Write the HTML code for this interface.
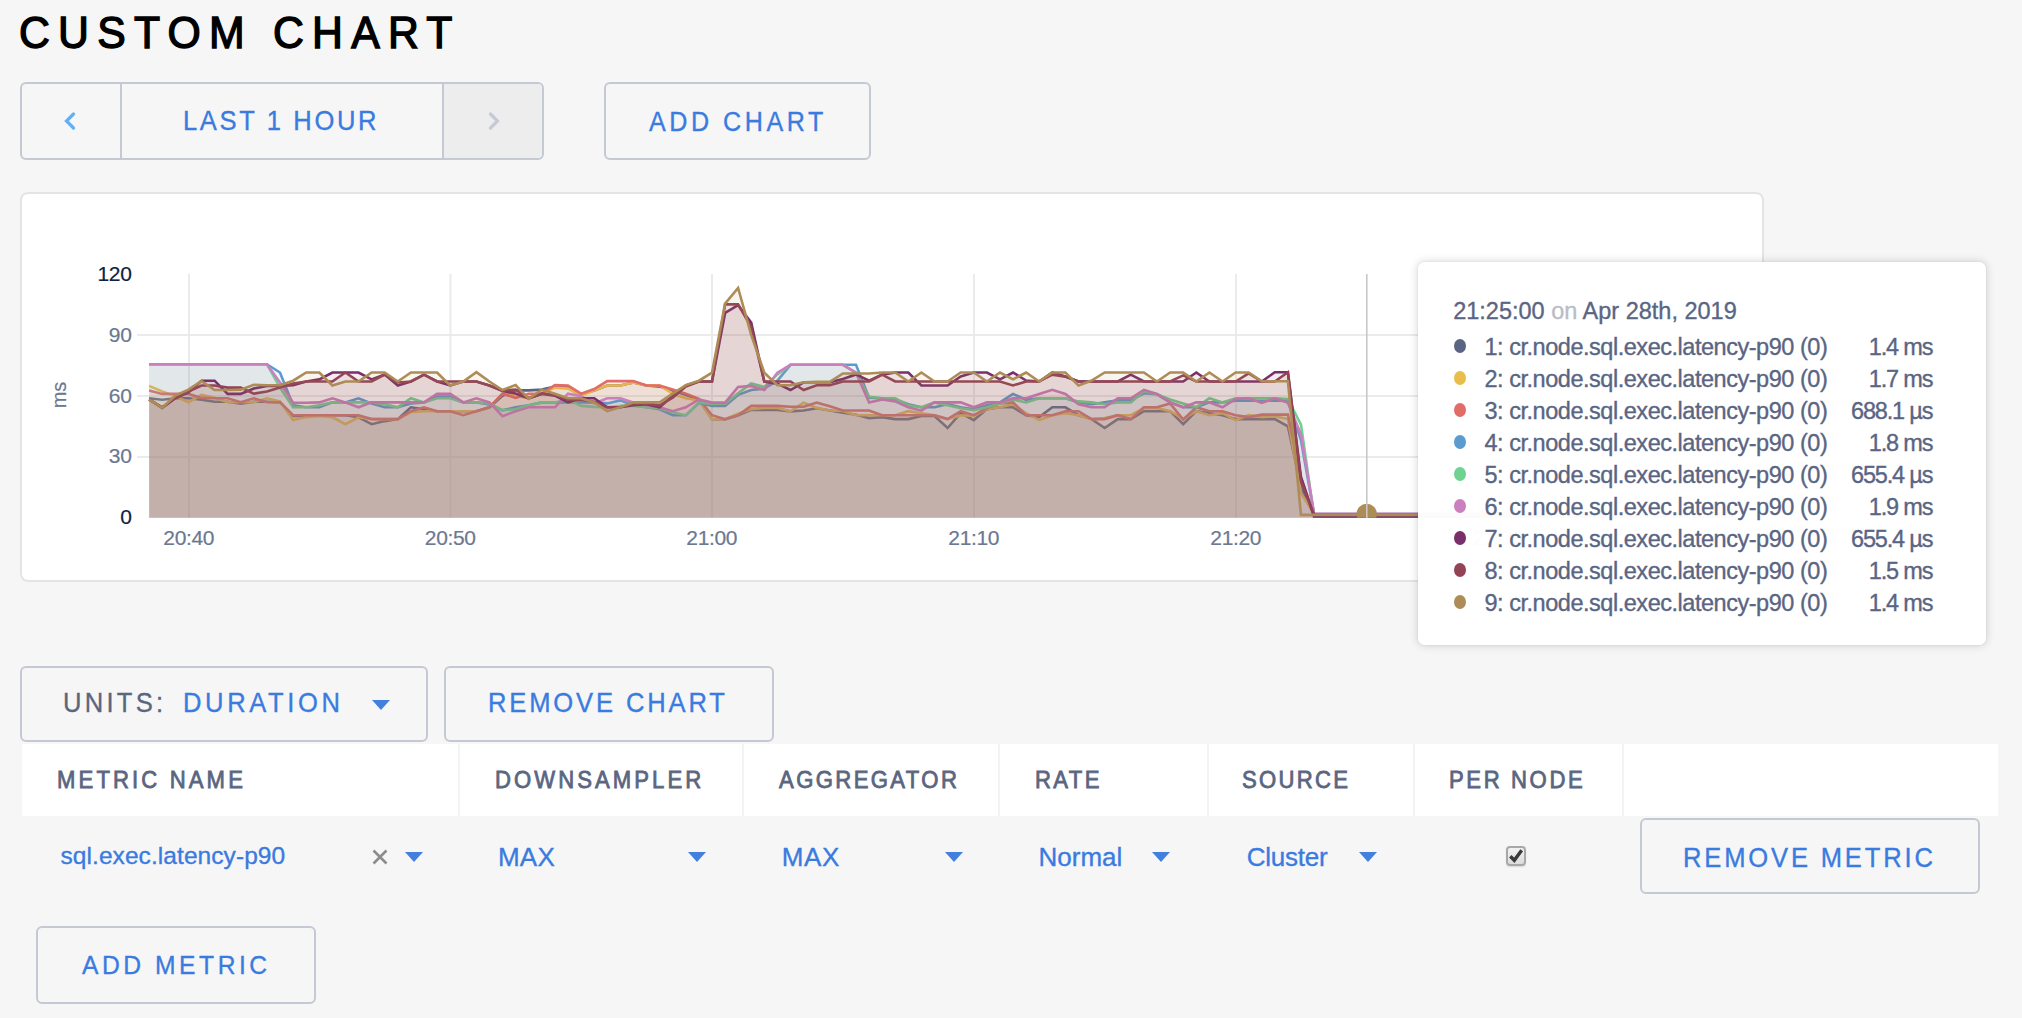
<!DOCTYPE html>
<html><head><meta charset="utf-8"><title>Custom Chart</title>
<style>
html,body{margin:0;padding:0;}
body{width:2022px;height:1018px;overflow:hidden;background:#f6f6f6;position:relative;font-family:"Liberation Sans",sans-serif;}
.t{position:absolute;white-space:nowrap;}
.box{position:absolute;border:2px solid #c5c9d3;border-radius:6px;}
</style></head><body>
<div class="t" style="left:18.80px;top:10.30px;font-size:45px;line-height:45px;color:#000;letter-spacing:8.668px;-webkit-text-stroke:1.4px #000;transform:scaleX(0.95);transform-origin:0 0;">CUSTOM CHART</div>
<div class="box" style="left:20px;top:82px;width:520px;height:74px;"></div>
<div style="position:absolute;left:444px;top:84px;width:98px;height:74px;background:#ededed;border-radius:0 5px 5px 0"></div>
<div style="position:absolute;left:120px;top:84px;width:2px;height:74px;background:#c5c9d3"></div>
<div style="position:absolute;left:442px;top:84px;width:2px;height:74px;background:#c5c9d3"></div>
<svg style="position:absolute;left:0;top:0" width="600" height="200"><polyline points="73.5,114 66.5,121 73.5,128" fill="none" stroke="#62b0f4" stroke-width="3.2" stroke-linecap="round"/><polyline points="490.5,114 497.5,121 490.5,128" fill="none" stroke="#c6cad5" stroke-width="3.2" stroke-linecap="round"/></svg>
<div class="t" style="left:183.02px;top:106.90px;font-size:27.5px;line-height:27.5px;color:#3a7be0;letter-spacing:2.827px;-webkit-text-stroke:0.35px #3a7be0;transform:scaleX(0.93);transform-origin:0 0;">LAST 1 HOUR</div>
<div class="box" style="left:604px;top:82px;width:263px;height:74px;"></div>
<div class="t" style="left:649.46px;top:108.50px;font-size:27px;line-height:27px;color:#3a7be0;letter-spacing:3.794px;-webkit-text-stroke:0.35px #3a7be0;transform:scaleX(0.93);transform-origin:0 0;">ADD CHART</div>
<div style="position:absolute;left:20px;top:192px;width:1740px;height:386px;background:#fff;border:2px solid #e4e4e4;border-radius:8px"></div>
<div class="t" style="left:-268.4px;width:400px;text-align:right;top:263.20px;font-size:21px;line-height:21px;color:#0f2242;letter-spacing:-0.3px;-webkit-text-stroke:0.2px #0f2242;">120</div>
<div class="t" style="left:-268.4px;width:400px;text-align:right;top:323.90px;font-size:21px;line-height:21px;color:#6b7891;letter-spacing:-0.3px;-webkit-text-stroke:0.2px #6b7891;">90</div>
<div class="t" style="left:-268.4px;width:400px;text-align:right;top:384.60px;font-size:21px;line-height:21px;color:#6b7891;letter-spacing:-0.3px;-webkit-text-stroke:0.2px #6b7891;">60</div>
<div class="t" style="left:-268.4px;width:400px;text-align:right;top:445.30px;font-size:21px;line-height:21px;color:#6b7891;letter-spacing:-0.3px;-webkit-text-stroke:0.2px #6b7891;">30</div>
<div class="t" style="left:-268.4px;width:400px;text-align:right;top:506.10px;font-size:21px;line-height:21px;color:#0f2242;letter-spacing:-0.3px;-webkit-text-stroke:0.2px #0f2242;">0</div>
<div class="t" style="left:38.5px;top:384px;width:40px;height:22px;font-size:20px;line-height:22px;color:#6b7891;transform:rotate(-90deg);text-align:center;transform-origin:20px 11px;-webkit-text-stroke:0.2px #6b7891">ms</div>
<div class="t" style="left:88.69999999999999px;width:200px;text-align:center;top:526.90px;font-size:21px;line-height:21px;color:#6b7891;letter-spacing:-0.37px;-webkit-text-stroke:0.2px #6b7891;">20:40</div>
<div class="t" style="left:350.2px;width:200px;text-align:center;top:526.90px;font-size:21px;line-height:21px;color:#6b7891;letter-spacing:-0.37px;-webkit-text-stroke:0.2px #6b7891;">20:50</div>
<div class="t" style="left:611.7px;width:200px;text-align:center;top:526.90px;font-size:21px;line-height:21px;color:#6b7891;letter-spacing:-0.37px;-webkit-text-stroke:0.2px #6b7891;">21:00</div>
<div class="t" style="left:873.7px;width:200px;text-align:center;top:526.90px;font-size:21px;line-height:21px;color:#6b7891;letter-spacing:-0.37px;-webkit-text-stroke:0.2px #6b7891;">21:10</div>
<div class="t" style="left:1135.7px;width:200px;text-align:center;top:526.90px;font-size:21px;line-height:21px;color:#6b7891;letter-spacing:-0.37px;-webkit-text-stroke:0.2px #6b7891;">21:20</div>
<div class="t" style="left:1397.45px;width:200px;text-align:center;top:526.90px;font-size:21px;line-height:21px;color:#6b7891;letter-spacing:-0.37px;-webkit-text-stroke:0.2px #6b7891;">21:30</div>
<svg style="position:absolute;left:0;top:0" width="2022" height="600"><defs><clipPath id="plotclip"><rect x="140" y="200" width="1700" height="317.7"/></clipPath></defs><rect x="188" y="274" width="2" height="244" fill="#ebebeb"/>
<rect x="449.5" y="274" width="2" height="244" fill="#ebebeb"/>
<rect x="711" y="274" width="2" height="244" fill="#ebebeb"/>
<rect x="973" y="274" width="2" height="244" fill="#ebebeb"/>
<rect x="1235" y="274" width="2" height="244" fill="#ebebeb"/>
<rect x="1496.75" y="274" width="2" height="244" fill="#ebebeb"/>
<rect x="137" y="334" width="1610" height="2" fill="#ebebeb"/>
<rect x="137" y="395" width="1610" height="2" fill="#ebebeb"/>
<rect x="137" y="456" width="1610" height="2" fill="#ebebeb"/>
<polygon points="149.1,517.7 149.1,398.3 162.2,399.8 175.3,398.3 188.4,398.3 201.5,399.8 214.6,401.8 227.6,401.8 240.7,403.8 253.8,401.8 266.9,401.8 280.0,402.2 293.1,416.0 306.2,416.0 319.3,415.2 332.4,415.2 345.4,415.2 358.5,417.3 371.6,424.2 384.7,421.1 397.8,419.1 410.9,407.3 424.0,409.3 437.1,411.2 450.2,411.2 463.3,411.2 476.4,411.2 489.4,407.3 502.5,395.7 515.6,390.4 528.7,390.4 541.8,389.6 554.9,386.6 568.0,387.6 581.1,394.7 594.2,390.6 607.2,385.5 620.3,385.5 633.4,382.5 646.5,385.5 659.6,386.6 672.7,390.6 685.8,394.7 698.9,399.8 712.0,419.3 725.1,419.3 738.1,415.2 751.2,409.9 764.3,409.9 777.4,409.9 790.5,411.4 803.6,410.5 816.7,408.3 829.8,410.5 842.9,412.8 856.0,414.8 869.1,418.1 882.1,417.1 895.2,419.1 908.3,419.1 921.4,416.0 934.5,416.0 947.6,428.0 960.7,413.2 973.8,420.1 986.9,409.1 1000.0,407.3 1013.0,407.3 1026.1,415.2 1039.2,417.1 1052.3,407.3 1065.4,407.3 1078.5,415.2 1091.6,419.1 1104.7,428.0 1117.8,419.1 1130.8,419.1 1143.9,411.2 1157.0,411.2 1170.1,411.2 1183.2,424.2 1196.3,411.2 1209.4,413.2 1222.5,415.2 1235.6,419.1 1248.7,419.1 1261.8,419.1 1274.8,419.1 1287.9,426.4 1301.0,487.2 1314.1,514.9 1327.2,514.9 1340.3,514.9 1353.4,514.9 1366.5,514.9 1379.6,514.9 1392.6,514.9 1405.7,514.9 1418.8,514.9 1431.9,514.9 1445.0,514.9 1458.1,514.9 1471.2,514.9 1484.3,514.9 1497.4,514.9 1510.5,514.9 1523.5,514.9 1536.6,514.9 1549.7,514.9 1562.8,514.9 1575.9,514.9 1589.0,514.9 1602.1,514.9 1615.2,514.9 1628.3,514.9 1641.4,514.9 1654.4,514.9 1667.5,514.9 1680.6,514.9 1693.7,514.9 1706.8,514.9 1719.9,514.9 1733.0,514.9 1733.0,517.7" fill="#5d657b" fill-opacity="0.092"/>
<polyline points="149.1,398.3 162.2,399.8 175.3,398.3 188.4,398.3 201.5,399.8 214.6,401.8 227.6,401.8 240.7,403.8 253.8,401.8 266.9,401.8 280.0,402.2 293.1,416.0 306.2,416.0 319.3,415.2 332.4,415.2 345.4,415.2 358.5,417.3 371.6,424.2 384.7,421.1 397.8,419.1 410.9,407.3 424.0,409.3 437.1,411.2 450.2,411.2 463.3,411.2 476.4,411.2 489.4,407.3 502.5,395.7 515.6,390.4 528.7,390.4 541.8,389.6 554.9,386.6 568.0,387.6 581.1,394.7 594.2,390.6 607.2,385.5 620.3,385.5 633.4,382.5 646.5,385.5 659.6,386.6 672.7,390.6 685.8,394.7 698.9,399.8 712.0,419.3 725.1,419.3 738.1,415.2 751.2,409.9 764.3,409.9 777.4,409.9 790.5,411.4 803.6,410.5 816.7,408.3 829.8,410.5 842.9,412.8 856.0,414.8 869.1,418.1 882.1,417.1 895.2,419.1 908.3,419.1 921.4,416.0 934.5,416.0 947.6,428.0 960.7,413.2 973.8,420.1 986.9,409.1 1000.0,407.3 1013.0,407.3 1026.1,415.2 1039.2,417.1 1052.3,407.3 1065.4,407.3 1078.5,415.2 1091.6,419.1 1104.7,428.0 1117.8,419.1 1130.8,419.1 1143.9,411.2 1157.0,411.2 1170.1,411.2 1183.2,424.2 1196.3,411.2 1209.4,413.2 1222.5,415.2 1235.6,419.1 1248.7,419.1 1261.8,419.1 1274.8,419.1 1287.9,426.4 1301.0,487.2 1314.1,514.9 1327.2,514.9 1340.3,514.9 1353.4,514.9 1366.5,514.9 1379.6,514.9 1392.6,514.9 1405.7,514.9 1418.8,514.9 1431.9,514.9 1445.0,514.9 1458.1,514.9 1471.2,514.9 1484.3,514.9 1497.4,514.9 1510.5,514.9 1523.5,514.9 1536.6,514.9 1549.7,514.9 1562.8,514.9 1575.9,514.9 1589.0,514.9 1602.1,514.9 1615.2,514.9 1628.3,514.9 1641.4,514.9 1654.4,514.9 1667.5,514.9 1680.6,514.9 1693.7,514.9 1706.8,514.9 1719.9,514.9 1733.0,514.9" fill="none" stroke="#5a6584" stroke-width="2.6" stroke-linejoin="miter" stroke-miterlimit="3"/>
<polygon points="149.1,517.7 149.1,385.9 162.2,391.4 175.3,396.3 188.4,402.2 201.5,394.9 214.6,397.7 227.6,402.2 240.7,402.2 253.8,402.2 266.9,398.3 280.0,401.4 293.1,420.1 306.2,417.1 319.3,416.0 332.4,417.3 345.4,424.2 358.5,417.3 371.6,419.1 384.7,419.1 397.8,419.1 410.9,412.0 424.0,411.2 437.1,411.2 450.2,411.2 463.3,411.2 476.4,411.2 489.4,407.3 502.5,393.7 515.6,395.5 528.7,398.3 541.8,393.5 554.9,387.6 568.0,388.6 581.1,395.7 594.2,390.4 607.2,385.5 620.3,385.5 633.4,382.5 646.5,385.5 659.6,385.5 672.7,393.7 685.8,398.3 698.9,400.4 712.0,419.3 725.1,419.3 738.1,413.8 751.2,409.1 764.3,407.9 777.4,407.9 790.5,411.4 803.6,402.6 816.7,407.9 829.8,410.5 842.9,411.0 856.0,415.2 869.1,415.2 882.1,415.2 895.2,415.2 908.3,411.2 921.4,413.2 934.5,415.2 947.6,419.1 960.7,415.2 973.8,416.0 986.9,409.1 1000.0,407.3 1013.0,404.2 1026.1,413.2 1039.2,420.1 1052.3,415.2 1065.4,413.2 1078.5,415.2 1091.6,419.1 1104.7,418.1 1117.8,415.2 1130.8,415.2 1143.9,408.1 1157.0,408.1 1170.1,411.2 1183.2,419.1 1196.3,411.2 1209.4,415.2 1222.5,413.2 1235.6,420.1 1248.7,415.2 1261.8,417.1 1274.8,416.4 1287.9,419.1 1301.0,493.3 1314.1,514.2 1327.2,514.2 1340.3,514.2 1353.4,514.2 1366.5,514.2 1379.6,514.2 1392.6,514.2 1405.7,514.2 1418.8,514.2 1431.9,514.2 1445.0,514.2 1458.1,514.2 1471.2,514.2 1484.3,514.2 1497.4,514.2 1510.5,514.2 1523.5,514.2 1536.6,514.2 1549.7,514.2 1562.8,514.2 1575.9,514.2 1589.0,514.2 1602.1,514.2 1615.2,514.2 1628.3,514.2 1641.4,514.2 1654.4,514.2 1667.5,514.2 1680.6,514.2 1693.7,514.2 1706.8,514.2 1719.9,514.2 1733.0,514.2 1733.0,517.7" fill="#ebbd41" fill-opacity="0.092"/>
<polyline points="149.1,385.9 162.2,391.4 175.3,396.3 188.4,402.2 201.5,394.9 214.6,397.7 227.6,402.2 240.7,402.2 253.8,402.2 266.9,398.3 280.0,401.4 293.1,420.1 306.2,417.1 319.3,416.0 332.4,417.3 345.4,424.2 358.5,417.3 371.6,419.1 384.7,419.1 397.8,419.1 410.9,412.0 424.0,411.2 437.1,411.2 450.2,411.2 463.3,411.2 476.4,411.2 489.4,407.3 502.5,393.7 515.6,395.5 528.7,398.3 541.8,393.5 554.9,387.6 568.0,388.6 581.1,395.7 594.2,390.4 607.2,385.5 620.3,385.5 633.4,382.5 646.5,385.5 659.6,385.5 672.7,393.7 685.8,398.3 698.9,400.4 712.0,419.3 725.1,419.3 738.1,413.8 751.2,409.1 764.3,407.9 777.4,407.9 790.5,411.4 803.6,402.6 816.7,407.9 829.8,410.5 842.9,411.0 856.0,415.2 869.1,415.2 882.1,415.2 895.2,415.2 908.3,411.2 921.4,413.2 934.5,415.2 947.6,419.1 960.7,415.2 973.8,416.0 986.9,409.1 1000.0,407.3 1013.0,404.2 1026.1,413.2 1039.2,420.1 1052.3,415.2 1065.4,413.2 1078.5,415.2 1091.6,419.1 1104.7,418.1 1117.8,415.2 1130.8,415.2 1143.9,408.1 1157.0,408.1 1170.1,411.2 1183.2,419.1 1196.3,411.2 1209.4,415.2 1222.5,413.2 1235.6,420.1 1248.7,415.2 1261.8,417.1 1274.8,416.4 1287.9,419.1 1301.0,493.3 1314.1,514.2 1327.2,514.2 1340.3,514.2 1353.4,514.2 1366.5,514.2 1379.6,514.2 1392.6,514.2 1405.7,514.2 1418.8,514.2 1431.9,514.2 1445.0,514.2 1458.1,514.2 1471.2,514.2 1484.3,514.2 1497.4,514.2 1510.5,514.2 1523.5,514.2 1536.6,514.2 1549.7,514.2 1562.8,514.2 1575.9,514.2 1589.0,514.2 1602.1,514.2 1615.2,514.2 1628.3,514.2 1641.4,514.2 1654.4,514.2 1667.5,514.2 1680.6,514.2 1693.7,514.2 1706.8,514.2 1719.9,514.2 1733.0,514.2" fill="none" stroke="#e8bd4a" stroke-width="2.6" stroke-linejoin="miter" stroke-miterlimit="3"/>
<polygon points="149.1,517.7 149.1,390.4 162.2,393.9 175.3,393.9 188.4,393.9 201.5,397.9 214.6,398.3 227.6,398.3 240.7,402.2 253.8,398.3 266.9,402.2 280.0,402.2 293.1,415.2 306.2,415.2 319.3,415.2 332.4,415.2 345.4,415.2 358.5,415.2 371.6,419.1 384.7,419.1 397.8,419.1 410.9,411.2 424.0,407.3 437.1,411.2 450.2,411.2 463.3,415.2 476.4,411.2 489.4,407.3 502.5,393.7 515.6,397.9 528.7,393.7 541.8,393.7 554.9,385.1 568.0,385.5 581.1,393.7 594.2,389.0 607.2,381.1 620.3,381.1 633.4,381.1 646.5,385.5 659.6,385.5 672.7,389.6 685.8,393.7 698.9,398.8 712.0,415.2 725.1,419.3 738.1,415.2 751.2,405.9 764.3,405.9 777.4,405.9 790.5,406.7 803.6,406.7 816.7,402.6 829.8,406.3 842.9,410.5 856.0,410.5 869.1,410.5 882.1,415.2 895.2,415.2 908.3,415.2 921.4,415.2 934.5,415.2 947.6,419.1 960.7,411.2 973.8,415.2 986.9,408.1 1000.0,403.4 1013.0,402.4 1026.1,415.2 1039.2,415.2 1052.3,415.2 1065.4,411.2 1078.5,411.2 1091.6,419.1 1104.7,419.1 1117.8,415.2 1130.8,419.1 1143.9,407.3 1157.0,407.3 1170.1,403.4 1183.2,419.5 1196.3,407.3 1209.4,411.2 1222.5,411.2 1235.6,415.2 1248.7,417.1 1261.8,414.6 1274.8,414.6 1287.9,414.6 1301.0,477.0 1314.1,516.3 1327.2,516.3 1340.3,516.3 1353.4,516.3 1366.5,516.3 1379.6,516.3 1392.6,516.3 1405.7,516.3 1418.8,516.3 1431.9,516.3 1445.0,516.3 1458.1,516.3 1471.2,516.3 1484.3,516.3 1497.4,516.3 1510.5,516.3 1523.5,516.3 1536.6,516.3 1549.7,516.3 1562.8,516.3 1575.9,516.3 1589.0,516.3 1602.1,516.3 1615.2,516.3 1628.3,516.3 1641.4,516.3 1654.4,516.3 1667.5,516.3 1680.6,516.3 1693.7,516.3 1706.8,516.3 1719.9,516.3 1733.0,516.3 1733.0,517.7" fill="#e56d5f" fill-opacity="0.092"/>
<polyline points="149.1,390.4 162.2,393.9 175.3,393.9 188.4,393.9 201.5,397.9 214.6,398.3 227.6,398.3 240.7,402.2 253.8,398.3 266.9,402.2 280.0,402.2 293.1,415.2 306.2,415.2 319.3,415.2 332.4,415.2 345.4,415.2 358.5,415.2 371.6,419.1 384.7,419.1 397.8,419.1 410.9,411.2 424.0,407.3 437.1,411.2 450.2,411.2 463.3,415.2 476.4,411.2 489.4,407.3 502.5,393.7 515.6,397.9 528.7,393.7 541.8,393.7 554.9,385.1 568.0,385.5 581.1,393.7 594.2,389.0 607.2,381.1 620.3,381.1 633.4,381.1 646.5,385.5 659.6,385.5 672.7,389.6 685.8,393.7 698.9,398.8 712.0,415.2 725.1,419.3 738.1,415.2 751.2,405.9 764.3,405.9 777.4,405.9 790.5,406.7 803.6,406.7 816.7,402.6 829.8,406.3 842.9,410.5 856.0,410.5 869.1,410.5 882.1,415.2 895.2,415.2 908.3,415.2 921.4,415.2 934.5,415.2 947.6,419.1 960.7,411.2 973.8,415.2 986.9,408.1 1000.0,403.4 1013.0,402.4 1026.1,415.2 1039.2,415.2 1052.3,415.2 1065.4,411.2 1078.5,411.2 1091.6,419.1 1104.7,419.1 1117.8,415.2 1130.8,419.1 1143.9,407.3 1157.0,407.3 1170.1,403.4 1183.2,419.5 1196.3,407.3 1209.4,411.2 1222.5,411.2 1235.6,415.2 1248.7,417.1 1261.8,414.6 1274.8,414.6 1287.9,414.6 1301.0,477.0 1314.1,516.3 1327.2,516.3 1340.3,516.3 1353.4,516.3 1366.5,516.3 1379.6,516.3 1392.6,516.3 1405.7,516.3 1418.8,516.3 1431.9,516.3 1445.0,516.3 1458.1,516.3 1471.2,516.3 1484.3,516.3 1497.4,516.3 1510.5,516.3 1523.5,516.3 1536.6,516.3 1549.7,516.3 1562.8,516.3 1575.9,516.3 1589.0,516.3 1602.1,516.3 1615.2,516.3 1628.3,516.3 1641.4,516.3 1654.4,516.3 1667.5,516.3 1680.6,516.3 1693.7,516.3 1706.8,516.3 1719.9,516.3 1733.0,516.3" fill="none" stroke="#e26d68" stroke-width="2.6" stroke-linejoin="miter" stroke-miterlimit="3"/>
<polygon points="149.1,517.7 149.1,364.2 162.2,364.2 175.3,364.2 188.4,364.2 201.5,364.2 214.6,364.2 227.6,364.2 240.7,364.2 253.8,364.2 266.9,364.2 280.0,372.5 293.1,405.3 306.2,407.3 319.3,407.3 332.4,402.4 345.4,402.4 358.5,398.3 371.6,403.4 384.7,407.3 397.8,407.3 410.9,403.4 424.0,402.4 437.1,396.5 450.2,396.5 463.3,402.4 476.4,402.4 489.4,404.4 502.5,410.3 515.6,407.3 528.7,405.3 541.8,402.4 554.9,402.4 568.0,402.4 581.1,402.4 594.2,402.4 607.2,403.4 620.3,400.4 633.4,405.3 646.5,407.3 659.6,409.3 672.7,415.2 685.8,415.2 698.9,403.0 712.0,405.9 725.1,405.9 738.1,394.9 751.2,390.0 764.3,388.6 777.4,380.7 790.5,364.8 803.6,364.8 816.7,364.8 829.8,364.8 842.9,364.8 856.0,364.8 869.1,397.7 882.1,398.3 895.2,399.4 908.3,404.2 921.4,407.3 934.5,407.3 947.6,404.2 960.7,407.3 973.8,409.3 986.9,405.3 1000.0,402.4 1013.0,393.9 1026.1,399.8 1039.2,398.3 1052.3,398.3 1065.4,398.3 1078.5,402.4 1091.6,404.2 1104.7,402.4 1117.8,400.4 1130.8,400.4 1143.9,393.3 1157.0,394.3 1170.1,402.4 1183.2,407.3 1196.3,407.3 1209.4,402.4 1222.5,402.4 1235.6,400.8 1248.7,400.8 1261.8,400.8 1274.8,400.8 1287.9,400.8 1301.0,440.4 1314.1,514.0 1327.2,514.0 1340.3,514.0 1353.4,514.0 1366.5,514.0 1379.6,514.0 1392.6,514.0 1405.7,514.0 1418.8,514.0 1431.9,514.0 1445.0,514.0 1458.1,514.0 1471.2,514.0 1484.3,514.0 1497.4,514.0 1510.5,514.0 1523.5,514.0 1536.6,514.0 1549.7,514.0 1562.8,514.0 1575.9,514.0 1589.0,514.0 1602.1,514.0 1615.2,514.0 1628.3,514.0 1641.4,514.0 1654.4,514.0 1667.5,514.0 1680.6,514.0 1693.7,514.0 1706.8,514.0 1719.9,514.0 1733.0,514.0 1733.0,517.7" fill="#5d9bc7" fill-opacity="0.092"/>
<polyline points="149.1,364.2 162.2,364.2 175.3,364.2 188.4,364.2 201.5,364.2 214.6,364.2 227.6,364.2 240.7,364.2 253.8,364.2 266.9,364.2 280.0,372.5 293.1,405.3 306.2,407.3 319.3,407.3 332.4,402.4 345.4,402.4 358.5,398.3 371.6,403.4 384.7,407.3 397.8,407.3 410.9,403.4 424.0,402.4 437.1,396.5 450.2,396.5 463.3,402.4 476.4,402.4 489.4,404.4 502.5,410.3 515.6,407.3 528.7,405.3 541.8,402.4 554.9,402.4 568.0,402.4 581.1,402.4 594.2,402.4 607.2,403.4 620.3,400.4 633.4,405.3 646.5,407.3 659.6,409.3 672.7,415.2 685.8,415.2 698.9,403.0 712.0,405.9 725.1,405.9 738.1,394.9 751.2,390.0 764.3,388.6 777.4,380.7 790.5,364.8 803.6,364.8 816.7,364.8 829.8,364.8 842.9,364.8 856.0,364.8 869.1,397.7 882.1,398.3 895.2,399.4 908.3,404.2 921.4,407.3 934.5,407.3 947.6,404.2 960.7,407.3 973.8,409.3 986.9,405.3 1000.0,402.4 1013.0,393.9 1026.1,399.8 1039.2,398.3 1052.3,398.3 1065.4,398.3 1078.5,402.4 1091.6,404.2 1104.7,402.4 1117.8,400.4 1130.8,400.4 1143.9,393.3 1157.0,394.3 1170.1,402.4 1183.2,407.3 1196.3,407.3 1209.4,402.4 1222.5,402.4 1235.6,400.8 1248.7,400.8 1261.8,400.8 1274.8,400.8 1287.9,400.8 1301.0,440.4 1314.1,514.0 1327.2,514.0 1340.3,514.0 1353.4,514.0 1366.5,514.0 1379.6,514.0 1392.6,514.0 1405.7,514.0 1418.8,514.0 1431.9,514.0 1445.0,514.0 1458.1,514.0 1471.2,514.0 1484.3,514.0 1497.4,514.0 1510.5,514.0 1523.5,514.0 1536.6,514.0 1549.7,514.0 1562.8,514.0 1575.9,514.0 1589.0,514.0 1602.1,514.0 1615.2,514.0 1628.3,514.0 1641.4,514.0 1654.4,514.0 1667.5,514.0 1680.6,514.0 1693.7,514.0 1706.8,514.0 1719.9,514.0 1733.0,514.0" fill="none" stroke="#5a9bd0" stroke-width="2.6" stroke-linejoin="miter" stroke-miterlimit="3"/>
<polygon points="149.1,517.7 149.1,364.2 162.2,364.2 175.3,364.2 188.4,364.2 201.5,364.2 214.6,364.2 227.6,364.2 240.7,364.2 253.8,364.2 266.9,364.2 280.0,387.6 293.1,407.3 306.2,407.3 319.3,405.3 332.4,402.4 345.4,402.4 358.5,402.4 371.6,402.4 384.7,404.2 397.8,407.3 410.9,398.3 424.0,402.4 437.1,398.3 450.2,398.3 463.3,402.4 476.4,402.4 489.4,403.4 502.5,410.3 515.6,409.3 528.7,405.3 541.8,402.4 554.9,402.4 568.0,399.4 581.1,405.9 594.2,406.9 607.2,407.3 620.3,405.9 633.4,405.9 646.5,407.3 659.6,408.3 672.7,412.2 685.8,415.2 698.9,402.6 712.0,403.8 725.1,403.8 738.1,393.3 751.2,383.5 764.3,387.0 777.4,374.4 790.5,364.8 803.6,364.8 816.7,364.8 829.8,364.8 842.9,364.8 856.0,372.7 869.1,396.9 882.1,398.3 895.2,398.3 908.3,405.3 921.4,407.3 934.5,402.4 947.6,405.3 960.7,408.3 973.8,410.3 986.9,407.3 1000.0,403.4 1013.0,399.4 1026.1,402.4 1039.2,398.3 1052.3,398.3 1065.4,398.3 1078.5,401.4 1091.6,402.4 1104.7,404.2 1117.8,402.4 1130.8,402.4 1143.9,391.2 1157.0,394.3 1170.1,399.4 1183.2,403.4 1196.3,407.3 1209.4,398.3 1222.5,402.4 1235.6,398.3 1248.7,398.3 1261.8,398.3 1274.8,398.3 1287.9,399.0 1301.0,424.6 1314.1,516.4 1327.2,516.4 1340.3,516.4 1353.4,516.4 1366.5,516.4 1379.6,516.4 1392.6,516.4 1405.7,516.4 1418.8,516.4 1431.9,516.4 1445.0,516.4 1458.1,516.4 1471.2,516.4 1484.3,516.4 1497.4,516.4 1510.5,516.4 1523.5,516.4 1536.6,516.4 1549.7,516.4 1562.8,516.4 1575.9,516.4 1589.0,516.4 1602.1,516.4 1615.2,516.4 1628.3,516.4 1641.4,516.4 1654.4,516.4 1667.5,516.4 1680.6,516.4 1693.7,516.4 1706.8,516.4 1719.9,516.4 1733.0,516.4 1733.0,517.7" fill="#71d388" fill-opacity="0.092"/>
<polyline points="149.1,364.2 162.2,364.2 175.3,364.2 188.4,364.2 201.5,364.2 214.6,364.2 227.6,364.2 240.7,364.2 253.8,364.2 266.9,364.2 280.0,387.6 293.1,407.3 306.2,407.3 319.3,405.3 332.4,402.4 345.4,402.4 358.5,402.4 371.6,402.4 384.7,404.2 397.8,407.3 410.9,398.3 424.0,402.4 437.1,398.3 450.2,398.3 463.3,402.4 476.4,402.4 489.4,403.4 502.5,410.3 515.6,409.3 528.7,405.3 541.8,402.4 554.9,402.4 568.0,399.4 581.1,405.9 594.2,406.9 607.2,407.3 620.3,405.9 633.4,405.9 646.5,407.3 659.6,408.3 672.7,412.2 685.8,415.2 698.9,402.6 712.0,403.8 725.1,403.8 738.1,393.3 751.2,383.5 764.3,387.0 777.4,374.4 790.5,364.8 803.6,364.8 816.7,364.8 829.8,364.8 842.9,364.8 856.0,372.7 869.1,396.9 882.1,398.3 895.2,398.3 908.3,405.3 921.4,407.3 934.5,402.4 947.6,405.3 960.7,408.3 973.8,410.3 986.9,407.3 1000.0,403.4 1013.0,399.4 1026.1,402.4 1039.2,398.3 1052.3,398.3 1065.4,398.3 1078.5,401.4 1091.6,402.4 1104.7,404.2 1117.8,402.4 1130.8,402.4 1143.9,391.2 1157.0,394.3 1170.1,399.4 1183.2,403.4 1196.3,407.3 1209.4,398.3 1222.5,402.4 1235.6,398.3 1248.7,398.3 1261.8,398.3 1274.8,398.3 1287.9,399.0 1301.0,424.6 1314.1,516.4 1327.2,516.4 1340.3,516.4 1353.4,516.4 1366.5,516.4 1379.6,516.4 1392.6,516.4 1405.7,516.4 1418.8,516.4 1431.9,516.4 1445.0,516.4 1458.1,516.4 1471.2,516.4 1484.3,516.4 1497.4,516.4 1510.5,516.4 1523.5,516.4 1536.6,516.4 1549.7,516.4 1562.8,516.4 1575.9,516.4 1589.0,516.4 1602.1,516.4 1615.2,516.4 1628.3,516.4 1641.4,516.4 1654.4,516.4 1667.5,516.4 1680.6,516.4 1693.7,516.4 1706.8,516.4 1719.9,516.4 1733.0,516.4" fill="none" stroke="#6ed391" stroke-width="2.6" stroke-linejoin="miter" stroke-miterlimit="3"/>
<polygon points="149.1,517.7 149.1,364.2 162.2,364.2 175.3,364.2 188.4,364.2 201.5,364.2 214.6,364.2 227.6,364.2 240.7,364.2 253.8,364.2 266.9,364.2 280.0,382.5 293.1,402.8 306.2,402.8 319.3,402.4 332.4,398.3 345.4,402.4 358.5,407.3 371.6,402.4 384.7,402.4 397.8,402.4 410.9,402.4 424.0,402.4 437.1,393.7 450.2,393.7 463.3,402.4 476.4,398.3 489.4,402.4 502.5,416.2 515.6,411.2 528.7,407.3 541.8,407.3 554.9,407.3 568.0,393.7 581.1,396.3 594.2,403.4 607.2,398.3 620.3,398.3 633.4,402.4 646.5,405.3 659.6,407.3 672.7,411.2 685.8,407.3 698.9,399.4 712.0,402.6 725.1,402.6 738.1,387.0 751.2,385.9 764.3,390.0 777.4,372.7 790.5,364.8 803.6,364.8 816.7,364.8 829.8,364.8 842.9,364.8 856.0,372.7 869.1,402.6 882.1,399.4 895.2,401.4 908.3,407.3 921.4,410.7 934.5,402.4 947.6,402.4 960.7,402.4 973.8,407.3 986.9,402.4 1000.0,402.4 1013.0,398.3 1026.1,398.3 1039.2,393.9 1052.3,389.8 1065.4,393.9 1078.5,404.2 1091.6,407.3 1104.7,407.3 1117.8,398.3 1130.8,398.3 1143.9,389.8 1157.0,393.9 1170.1,402.4 1183.2,407.3 1196.3,402.4 1209.4,402.4 1222.5,407.3 1235.6,399.0 1248.7,398.3 1261.8,402.8 1274.8,398.3 1287.9,402.8 1301.0,434.3 1314.1,513.8 1327.2,513.8 1340.3,513.8 1353.4,513.8 1366.5,513.8 1379.6,513.8 1392.6,513.8 1405.7,513.8 1418.8,513.8 1431.9,513.8 1445.0,513.8 1458.1,513.8 1471.2,513.8 1484.3,513.8 1497.4,513.8 1510.5,513.8 1523.5,513.8 1536.6,513.8 1549.7,513.8 1562.8,513.8 1575.9,513.8 1589.0,513.8 1602.1,513.8 1615.2,513.8 1628.3,513.8 1641.4,513.8 1654.4,513.8 1667.5,513.8 1680.6,513.8 1693.7,513.8 1706.8,513.8 1719.9,513.8 1733.0,513.8 1733.0,517.7" fill="#cf7fb6" fill-opacity="0.092"/>
<polyline points="149.1,364.2 162.2,364.2 175.3,364.2 188.4,364.2 201.5,364.2 214.6,364.2 227.6,364.2 240.7,364.2 253.8,364.2 266.9,364.2 280.0,382.5 293.1,402.8 306.2,402.8 319.3,402.4 332.4,398.3 345.4,402.4 358.5,407.3 371.6,402.4 384.7,402.4 397.8,402.4 410.9,402.4 424.0,402.4 437.1,393.7 450.2,393.7 463.3,402.4 476.4,398.3 489.4,402.4 502.5,416.2 515.6,411.2 528.7,407.3 541.8,407.3 554.9,407.3 568.0,393.7 581.1,396.3 594.2,403.4 607.2,398.3 620.3,398.3 633.4,402.4 646.5,405.3 659.6,407.3 672.7,411.2 685.8,407.3 698.9,399.4 712.0,402.6 725.1,402.6 738.1,387.0 751.2,385.9 764.3,390.0 777.4,372.7 790.5,364.8 803.6,364.8 816.7,364.8 829.8,364.8 842.9,364.8 856.0,372.7 869.1,402.6 882.1,399.4 895.2,401.4 908.3,407.3 921.4,410.7 934.5,402.4 947.6,402.4 960.7,402.4 973.8,407.3 986.9,402.4 1000.0,402.4 1013.0,398.3 1026.1,398.3 1039.2,393.9 1052.3,389.8 1065.4,393.9 1078.5,404.2 1091.6,407.3 1104.7,407.3 1117.8,398.3 1130.8,398.3 1143.9,389.8 1157.0,393.9 1170.1,402.4 1183.2,407.3 1196.3,402.4 1209.4,402.4 1222.5,407.3 1235.6,399.0 1248.7,398.3 1261.8,402.8 1274.8,398.3 1287.9,402.8 1301.0,434.3 1314.1,513.8 1327.2,513.8 1340.3,513.8 1353.4,513.8 1366.5,513.8 1379.6,513.8 1392.6,513.8 1405.7,513.8 1418.8,513.8 1431.9,513.8 1445.0,513.8 1458.1,513.8 1471.2,513.8 1484.3,513.8 1497.4,513.8 1510.5,513.8 1523.5,513.8 1536.6,513.8 1549.7,513.8 1562.8,513.8 1575.9,513.8 1589.0,513.8 1602.1,513.8 1615.2,513.8 1628.3,513.8 1641.4,513.8 1654.4,513.8 1667.5,513.8 1680.6,513.8 1693.7,513.8 1706.8,513.8 1719.9,513.8 1733.0,513.8" fill="none" stroke="#cc7fbf" stroke-width="2.6" stroke-linejoin="miter" stroke-miterlimit="3"/>
<polygon points="149.1,517.7 149.1,399.4 162.2,407.9 175.3,398.3 188.4,392.4 201.5,380.7 214.6,380.7 227.6,393.9 240.7,393.9 253.8,388.6 266.9,385.9 280.0,385.9 293.1,385.3 306.2,381.5 319.3,379.4 332.4,372.5 345.4,372.5 358.5,372.5 371.6,379.4 384.7,374.6 397.8,385.5 410.9,381.5 424.0,374.6 437.1,381.5 450.2,385.5 463.3,381.5 476.4,381.5 489.4,385.5 502.5,391.0 515.6,393.5 528.7,398.3 541.8,393.7 554.9,395.7 568.0,402.4 581.1,398.3 594.2,398.3 607.2,407.3 620.3,407.3 633.4,405.3 646.5,404.2 659.6,407.3 672.7,395.7 685.8,385.5 698.9,381.5 712.0,381.5 725.1,312.9 738.1,305.2 751.2,322.5 764.3,381.5 777.4,383.7 790.5,390.0 803.6,382.3 816.7,382.3 829.8,382.3 842.9,379.0 856.0,374.4 869.1,380.7 882.1,374.6 895.2,372.5 908.3,372.5 921.4,385.5 934.5,385.5 947.6,385.5 960.7,376.4 973.8,372.5 986.9,372.5 1000.0,379.4 1013.0,372.5 1026.1,380.5 1039.2,381.5 1052.3,372.5 1065.4,376.6 1078.5,381.5 1091.6,381.5 1104.7,381.5 1117.8,381.5 1130.8,374.6 1143.9,381.5 1157.0,381.5 1170.1,381.5 1183.2,381.5 1196.3,372.5 1209.4,381.5 1222.5,381.5 1235.6,381.5 1248.7,381.5 1261.8,381.5 1274.8,372.3 1287.9,372.3 1301.0,477.4 1314.1,516.4 1327.2,516.4 1340.3,516.4 1353.4,516.4 1366.5,516.4 1379.6,516.4 1392.6,516.4 1405.7,516.4 1418.8,516.4 1431.9,516.4 1445.0,516.4 1458.1,516.4 1471.2,516.4 1484.3,516.4 1497.4,516.4 1510.5,516.4 1523.5,516.4 1536.6,516.4 1549.7,516.4 1562.8,516.4 1575.9,516.4 1589.0,516.4 1602.1,516.4 1615.2,516.4 1628.3,516.4 1641.4,516.4 1654.4,516.4 1667.5,516.4 1680.6,516.4 1693.7,516.4 1706.8,516.4 1719.9,516.4 1733.0,516.4 1733.0,517.7" fill="#7d2f62" fill-opacity="0.092"/>
<polyline points="149.1,399.4 162.2,407.9 175.3,398.3 188.4,392.4 201.5,380.7 214.6,380.7 227.6,393.9 240.7,393.9 253.8,388.6 266.9,385.9 280.0,385.9 293.1,385.3 306.2,381.5 319.3,379.4 332.4,372.5 345.4,372.5 358.5,372.5 371.6,379.4 384.7,374.6 397.8,385.5 410.9,381.5 424.0,374.6 437.1,381.5 450.2,385.5 463.3,381.5 476.4,381.5 489.4,385.5 502.5,391.0 515.6,393.5 528.7,398.3 541.8,393.7 554.9,395.7 568.0,402.4 581.1,398.3 594.2,398.3 607.2,407.3 620.3,407.3 633.4,405.3 646.5,404.2 659.6,407.3 672.7,395.7 685.8,385.5 698.9,381.5 712.0,381.5 725.1,312.9 738.1,305.2 751.2,322.5 764.3,381.5 777.4,383.7 790.5,390.0 803.6,382.3 816.7,382.3 829.8,382.3 842.9,379.0 856.0,374.4 869.1,380.7 882.1,374.6 895.2,372.5 908.3,372.5 921.4,385.5 934.5,385.5 947.6,385.5 960.7,376.4 973.8,372.5 986.9,372.5 1000.0,379.4 1013.0,372.5 1026.1,380.5 1039.2,381.5 1052.3,372.5 1065.4,376.6 1078.5,381.5 1091.6,381.5 1104.7,381.5 1117.8,381.5 1130.8,374.6 1143.9,381.5 1157.0,381.5 1170.1,381.5 1183.2,381.5 1196.3,372.5 1209.4,381.5 1222.5,381.5 1235.6,381.5 1248.7,381.5 1261.8,381.5 1274.8,372.3 1287.9,372.3 1301.0,477.4 1314.1,516.4 1327.2,516.4 1340.3,516.4 1353.4,516.4 1366.5,516.4 1379.6,516.4 1392.6,516.4 1405.7,516.4 1418.8,516.4 1431.9,516.4 1445.0,516.4 1458.1,516.4 1471.2,516.4 1484.3,516.4 1497.4,516.4 1510.5,516.4 1523.5,516.4 1536.6,516.4 1549.7,516.4 1562.8,516.4 1575.9,516.4 1589.0,516.4 1602.1,516.4 1615.2,516.4 1628.3,516.4 1641.4,516.4 1654.4,516.4 1667.5,516.4 1680.6,516.4 1693.7,516.4 1706.8,516.4 1719.9,516.4 1733.0,516.4" fill="none" stroke="#7a2f6b" stroke-width="2.6" stroke-linejoin="miter" stroke-miterlimit="3"/>
<polygon points="149.1,517.7 149.1,399.4 162.2,407.3 175.3,397.7 188.4,391.6 201.5,385.5 214.6,385.5 227.6,387.6 240.7,387.6 253.8,393.7 266.9,391.6 280.0,387.6 293.1,383.5 306.2,381.5 319.3,381.5 332.4,381.5 345.4,372.5 358.5,381.5 371.6,381.5 384.7,374.6 397.8,382.5 410.9,381.5 424.0,374.6 437.1,381.5 450.2,381.5 463.3,381.5 476.4,381.5 489.4,385.5 502.5,390.4 515.6,389.6 528.7,398.3 541.8,393.7 554.9,394.7 568.0,399.8 581.1,399.8 594.2,401.8 607.2,407.3 620.3,407.3 633.4,404.2 646.5,403.4 659.6,405.3 672.7,397.7 685.8,386.6 698.9,381.5 712.0,381.5 725.1,304.4 738.1,304.4 751.2,327.0 764.3,381.5 777.4,381.5 790.5,381.5 803.6,390.0 816.7,385.3 829.8,385.3 842.9,381.5 856.0,381.5 869.1,381.5 882.1,374.6 895.2,381.5 908.3,381.5 921.4,381.5 934.5,381.5 947.6,381.5 960.7,381.5 973.8,381.5 986.9,381.5 1000.0,381.5 1013.0,385.5 1026.1,381.5 1039.2,381.5 1052.3,374.6 1065.4,376.6 1078.5,381.5 1091.6,381.5 1104.7,381.5 1117.8,381.5 1130.8,381.5 1143.9,381.5 1157.0,381.5 1170.1,381.5 1183.2,375.4 1196.3,381.5 1209.4,381.5 1222.5,381.5 1235.6,381.5 1248.7,373.3 1261.8,381.5 1274.8,381.5 1287.9,372.3 1301.0,481.1 1314.1,514.7 1327.2,514.7 1340.3,514.7 1353.4,514.7 1366.5,514.7 1379.6,514.7 1392.6,514.7 1405.7,514.7 1418.8,514.7 1431.9,514.7 1445.0,514.7 1458.1,514.7 1471.2,514.7 1484.3,514.7 1497.4,514.7 1510.5,514.7 1523.5,514.7 1536.6,514.7 1549.7,514.7 1562.8,514.7 1575.9,514.7 1589.0,514.7 1602.1,514.7 1615.2,514.7 1628.3,514.7 1641.4,514.7 1654.4,514.7 1667.5,514.7 1680.6,514.7 1693.7,514.7 1706.8,514.7 1719.9,514.7 1733.0,514.7 1733.0,517.7" fill="#96434c" fill-opacity="0.092"/>
<polyline points="149.1,399.4 162.2,407.3 175.3,397.7 188.4,391.6 201.5,385.5 214.6,385.5 227.6,387.6 240.7,387.6 253.8,393.7 266.9,391.6 280.0,387.6 293.1,383.5 306.2,381.5 319.3,381.5 332.4,381.5 345.4,372.5 358.5,381.5 371.6,381.5 384.7,374.6 397.8,382.5 410.9,381.5 424.0,374.6 437.1,381.5 450.2,381.5 463.3,381.5 476.4,381.5 489.4,385.5 502.5,390.4 515.6,389.6 528.7,398.3 541.8,393.7 554.9,394.7 568.0,399.8 581.1,399.8 594.2,401.8 607.2,407.3 620.3,407.3 633.4,404.2 646.5,403.4 659.6,405.3 672.7,397.7 685.8,386.6 698.9,381.5 712.0,381.5 725.1,304.4 738.1,304.4 751.2,327.0 764.3,381.5 777.4,381.5 790.5,381.5 803.6,390.0 816.7,385.3 829.8,385.3 842.9,381.5 856.0,381.5 869.1,381.5 882.1,374.6 895.2,381.5 908.3,381.5 921.4,381.5 934.5,381.5 947.6,381.5 960.7,381.5 973.8,381.5 986.9,381.5 1000.0,381.5 1013.0,385.5 1026.1,381.5 1039.2,381.5 1052.3,374.6 1065.4,376.6 1078.5,381.5 1091.6,381.5 1104.7,381.5 1117.8,381.5 1130.8,381.5 1143.9,381.5 1157.0,381.5 1170.1,381.5 1183.2,375.4 1196.3,381.5 1209.4,381.5 1222.5,381.5 1235.6,381.5 1248.7,373.3 1261.8,381.5 1274.8,381.5 1287.9,372.3 1301.0,481.1 1314.1,514.7 1327.2,514.7 1340.3,514.7 1353.4,514.7 1366.5,514.7 1379.6,514.7 1392.6,514.7 1405.7,514.7 1418.8,514.7 1431.9,514.7 1445.0,514.7 1458.1,514.7 1471.2,514.7 1484.3,514.7 1497.4,514.7 1510.5,514.7 1523.5,514.7 1536.6,514.7 1549.7,514.7 1562.8,514.7 1575.9,514.7 1589.0,514.7 1602.1,514.7 1615.2,514.7 1628.3,514.7 1641.4,514.7 1654.4,514.7 1667.5,514.7 1680.6,514.7 1693.7,514.7 1706.8,514.7 1719.9,514.7 1733.0,514.7" fill="none" stroke="#934355" stroke-width="2.6" stroke-linejoin="miter" stroke-miterlimit="3"/>
<polygon points="149.1,517.7 149.1,399.4 162.2,407.9 175.3,395.5 188.4,389.6 201.5,381.1 214.6,390.0 227.6,390.0 240.7,389.6 253.8,384.9 266.9,385.3 280.0,385.3 293.1,380.7 306.2,372.5 319.3,372.5 332.4,385.5 345.4,381.5 358.5,381.5 371.6,372.5 384.7,372.5 397.8,381.5 410.9,372.5 424.0,372.5 437.1,372.5 450.2,385.5 463.3,381.5 476.4,372.1 489.4,381.5 502.5,390.0 515.6,385.1 528.7,398.8 541.8,389.6 554.9,393.7 568.0,398.3 581.1,398.3 594.2,402.4 607.2,411.2 620.3,407.3 633.4,402.4 646.5,402.4 659.6,402.4 672.7,393.7 685.8,385.1 698.9,380.7 712.0,372.7 725.1,303.6 738.1,287.9 751.2,334.9 764.3,372.7 777.4,385.3 790.5,385.3 803.6,382.3 816.7,381.9 829.8,381.9 842.9,373.5 856.0,373.5 869.1,373.5 882.1,372.5 895.2,372.5 908.3,381.5 921.4,372.5 934.5,381.5 947.6,381.5 960.7,372.5 973.8,372.5 986.9,381.5 1000.0,372.5 1013.0,379.4 1026.1,372.5 1039.2,381.5 1052.3,372.5 1065.4,372.5 1078.5,385.5 1091.6,380.5 1104.7,372.5 1117.8,372.5 1130.8,372.5 1143.9,372.5 1157.0,381.5 1170.1,372.5 1183.2,372.5 1196.3,381.5 1209.4,372.5 1222.5,381.5 1235.6,372.5 1248.7,372.5 1261.8,381.3 1274.8,381.3 1287.9,381.3 1301.0,514.9 1314.1,514.9 1327.2,514.9 1340.3,514.9 1353.4,514.9 1366.5,514.9 1379.6,514.9 1392.6,514.9 1405.7,514.9 1418.8,514.9 1431.9,514.9 1445.0,514.9 1458.1,514.9 1471.2,514.9 1484.3,514.9 1497.4,514.9 1510.5,514.9 1523.5,514.9 1536.6,514.9 1549.7,514.9 1562.8,514.9 1575.9,514.9 1589.0,514.9 1602.1,514.9 1615.2,514.9 1628.3,514.9 1641.4,514.9 1654.4,514.9 1667.5,514.9 1680.6,514.9 1693.7,514.9 1706.8,514.9 1719.9,514.9 1733.0,514.9 1733.0,517.7" fill="#b08c4e" fill-opacity="0.092"/>
<polyline points="149.1,399.4 162.2,407.9 175.3,395.5 188.4,389.6 201.5,381.1 214.6,390.0 227.6,390.0 240.7,389.6 253.8,384.9 266.9,385.3 280.0,385.3 293.1,380.7 306.2,372.5 319.3,372.5 332.4,385.5 345.4,381.5 358.5,381.5 371.6,372.5 384.7,372.5 397.8,381.5 410.9,372.5 424.0,372.5 437.1,372.5 450.2,385.5 463.3,381.5 476.4,372.1 489.4,381.5 502.5,390.0 515.6,385.1 528.7,398.8 541.8,389.6 554.9,393.7 568.0,398.3 581.1,398.3 594.2,402.4 607.2,411.2 620.3,407.3 633.4,402.4 646.5,402.4 659.6,402.4 672.7,393.7 685.8,385.1 698.9,380.7 712.0,372.7 725.1,303.6 738.1,287.9 751.2,334.9 764.3,372.7 777.4,385.3 790.5,385.3 803.6,382.3 816.7,381.9 829.8,381.9 842.9,373.5 856.0,373.5 869.1,373.5 882.1,372.5 895.2,372.5 908.3,381.5 921.4,372.5 934.5,381.5 947.6,381.5 960.7,372.5 973.8,372.5 986.9,381.5 1000.0,372.5 1013.0,379.4 1026.1,372.5 1039.2,381.5 1052.3,372.5 1065.4,372.5 1078.5,385.5 1091.6,380.5 1104.7,372.5 1117.8,372.5 1130.8,372.5 1143.9,372.5 1157.0,381.5 1170.1,372.5 1183.2,372.5 1196.3,381.5 1209.4,372.5 1222.5,381.5 1235.6,372.5 1248.7,372.5 1261.8,381.3 1274.8,381.3 1287.9,381.3 1301.0,514.9 1314.1,514.9 1327.2,514.9 1340.3,514.9 1353.4,514.9 1366.5,514.9 1379.6,514.9 1392.6,514.9 1405.7,514.9 1418.8,514.9 1431.9,514.9 1445.0,514.9 1458.1,514.9 1471.2,514.9 1484.3,514.9 1497.4,514.9 1510.5,514.9 1523.5,514.9 1536.6,514.9 1549.7,514.9 1562.8,514.9 1575.9,514.9 1589.0,514.9 1602.1,514.9 1615.2,514.9 1628.3,514.9 1641.4,514.9 1654.4,514.9 1667.5,514.9 1680.6,514.9 1693.7,514.9 1706.8,514.9 1719.9,514.9 1733.0,514.9" fill="none" stroke="#ad8c57" stroke-width="2.6" stroke-linejoin="miter" stroke-miterlimit="3"/>
<circle cx="1366.7" cy="514" r="10.2" fill="#ad8c57" clip-path="url(#plotclip)"/>
<rect x="1366" y="274" width="1.6" height="244" fill="#c8c8c8"/></svg>
<div style="position:absolute;left:1418px;top:262px;width:568px;height:383px;background:rgba(255,255,255,0.975);border-radius:7px;box-shadow:0 0 2px rgba(0,0,0,0.1),0 0 9px 1px rgba(0,0,0,0.14)"></div>
<div class="t" style="left:1453.20px;top:300.10px;font-size:23.5px;line-height:23.5px;color:#5a6583;letter-spacing:0.000px;-webkit-text-stroke:0.35px #5a6583;">21:25:00 <span style="color:#b9bdc4;-webkit-text-stroke:0.35px #b9bdc4">on</span> Apr 28th, 2019</div>
<div style="position:absolute;left:1454px;top:338.9px;width:12px;height:14px;border-radius:50%;background:#5a6584"></div>
<div class="t" style="left:1484.50px;top:336.30px;font-size:23.5px;line-height:23.5px;color:#5a6583;letter-spacing:-0.470px;-webkit-text-stroke:0.35px #5a6583;">1: cr.node.sql.exec.latency-p90 (0)</div>
<div class="t" style="left:1532.3px;width:400px;text-align:right;top:336.30px;font-size:23.5px;line-height:23.5px;color:#5a6583;letter-spacing:-1.17px;-webkit-text-stroke:0.35px #5a6583;">1.4 ms</div>
<div style="position:absolute;left:1454px;top:370.9px;width:12px;height:14px;border-radius:50%;background:#e8bd4a"></div>
<div class="t" style="left:1484.50px;top:368.30px;font-size:23.5px;line-height:23.5px;color:#5a6583;letter-spacing:-0.470px;-webkit-text-stroke:0.35px #5a6583;">2: cr.node.sql.exec.latency-p90 (0)</div>
<div class="t" style="left:1532.3px;width:400px;text-align:right;top:368.30px;font-size:23.5px;line-height:23.5px;color:#5a6583;letter-spacing:-1.17px;-webkit-text-stroke:0.35px #5a6583;">1.7 ms</div>
<div style="position:absolute;left:1454px;top:402.9px;width:12px;height:14px;border-radius:50%;background:#e26d68"></div>
<div class="t" style="left:1484.50px;top:400.30px;font-size:23.5px;line-height:23.5px;color:#5a6583;letter-spacing:-0.470px;-webkit-text-stroke:0.35px #5a6583;">3: cr.node.sql.exec.latency-p90 (0)</div>
<div class="t" style="left:1532.3px;width:400px;text-align:right;top:400.30px;font-size:23.5px;line-height:23.5px;color:#5a6583;letter-spacing:-1.17px;-webkit-text-stroke:0.35px #5a6583;">688.1 µs</div>
<div style="position:absolute;left:1454px;top:434.9px;width:12px;height:14px;border-radius:50%;background:#5a9bd0"></div>
<div class="t" style="left:1484.50px;top:432.30px;font-size:23.5px;line-height:23.5px;color:#5a6583;letter-spacing:-0.470px;-webkit-text-stroke:0.35px #5a6583;">4: cr.node.sql.exec.latency-p90 (0)</div>
<div class="t" style="left:1532.3px;width:400px;text-align:right;top:432.30px;font-size:23.5px;line-height:23.5px;color:#5a6583;letter-spacing:-1.17px;-webkit-text-stroke:0.35px #5a6583;">1.8 ms</div>
<div style="position:absolute;left:1454px;top:466.9px;width:12px;height:14px;border-radius:50%;background:#6ed391"></div>
<div class="t" style="left:1484.50px;top:464.30px;font-size:23.5px;line-height:23.5px;color:#5a6583;letter-spacing:-0.470px;-webkit-text-stroke:0.35px #5a6583;">5: cr.node.sql.exec.latency-p90 (0)</div>
<div class="t" style="left:1532.3px;width:400px;text-align:right;top:464.30px;font-size:23.5px;line-height:23.5px;color:#5a6583;letter-spacing:-1.17px;-webkit-text-stroke:0.35px #5a6583;">655.4 µs</div>
<div style="position:absolute;left:1454px;top:498.9px;width:12px;height:14px;border-radius:50%;background:#cc7fbf"></div>
<div class="t" style="left:1484.50px;top:496.30px;font-size:23.5px;line-height:23.5px;color:#5a6583;letter-spacing:-0.470px;-webkit-text-stroke:0.35px #5a6583;">6: cr.node.sql.exec.latency-p90 (0)</div>
<div class="t" style="left:1532.3px;width:400px;text-align:right;top:496.30px;font-size:23.5px;line-height:23.5px;color:#5a6583;letter-spacing:-1.17px;-webkit-text-stroke:0.35px #5a6583;">1.9 ms</div>
<div style="position:absolute;left:1454px;top:530.9px;width:12px;height:14px;border-radius:50%;background:#7a2f6b"></div>
<div class="t" style="left:1484.50px;top:528.30px;font-size:23.5px;line-height:23.5px;color:#5a6583;letter-spacing:-0.470px;-webkit-text-stroke:0.35px #5a6583;">7: cr.node.sql.exec.latency-p90 (0)</div>
<div class="t" style="left:1532.3px;width:400px;text-align:right;top:528.30px;font-size:23.5px;line-height:23.5px;color:#5a6583;letter-spacing:-1.17px;-webkit-text-stroke:0.35px #5a6583;">655.4 µs</div>
<div style="position:absolute;left:1454px;top:562.9px;width:12px;height:14px;border-radius:50%;background:#934355"></div>
<div class="t" style="left:1484.50px;top:560.30px;font-size:23.5px;line-height:23.5px;color:#5a6583;letter-spacing:-0.470px;-webkit-text-stroke:0.35px #5a6583;">8: cr.node.sql.exec.latency-p90 (0)</div>
<div class="t" style="left:1532.3px;width:400px;text-align:right;top:560.30px;font-size:23.5px;line-height:23.5px;color:#5a6583;letter-spacing:-1.17px;-webkit-text-stroke:0.35px #5a6583;">1.5 ms</div>
<div style="position:absolute;left:1454px;top:594.9px;width:12px;height:14px;border-radius:50%;background:#ad8c57"></div>
<div class="t" style="left:1484.50px;top:592.30px;font-size:23.5px;line-height:23.5px;color:#5a6583;letter-spacing:-0.470px;-webkit-text-stroke:0.35px #5a6583;">9: cr.node.sql.exec.latency-p90 (0)</div>
<div class="t" style="left:1532.3px;width:400px;text-align:right;top:592.30px;font-size:23.5px;line-height:23.5px;color:#5a6583;letter-spacing:-1.17px;-webkit-text-stroke:0.35px #5a6583;">1.4 ms</div>
<div class="box" style="left:20px;top:666px;width:404px;height:72px;"></div>
<div class="t" style="left:63.24px;top:689.00px;font-size:27.5px;line-height:27.5px;color:#5a6680;letter-spacing:3.508px;-webkit-text-stroke:0.35px #5a6680;transform:scaleX(0.93);transform-origin:0 0;">UNITS:</div>
<div class="t" style="left:183.00px;top:689.00px;font-size:27.5px;line-height:27.5px;color:#3a7be0;letter-spacing:3.870px;-webkit-text-stroke:0.35px #3a7be0;transform:scaleX(0.93);transform-origin:0 0;">DURATION</div>
<svg style="position:absolute;left:372px;top:700px" width="18" height="10"><polygon points="0,0 18,0 9,10" fill="#4380de"/></svg>
<div class="box" style="left:444px;top:666px;width:326px;height:72px;"></div>
<div class="t" style="left:487.76px;top:689.30px;font-size:27.5px;line-height:27.5px;color:#3a7be0;letter-spacing:3.062px;-webkit-text-stroke:0.35px #3a7be0;transform:scaleX(0.93);transform-origin:0 0;">REMOVE CHART</div>
<div style="position:absolute;left:22px;top:744px;width:1976px;height:72px;background:#fff"></div>
<div style="position:absolute;left:458px;top:744px;width:2px;height:72px;background:#f3f3f3"></div>
<div style="position:absolute;left:742px;top:744px;width:2px;height:72px;background:#f3f3f3"></div>
<div style="position:absolute;left:998px;top:744px;width:2px;height:72px;background:#f3f3f3"></div>
<div style="position:absolute;left:1207px;top:744px;width:2px;height:72px;background:#f3f3f3"></div>
<div style="position:absolute;left:1413px;top:744px;width:2px;height:72px;background:#f3f3f3"></div>
<div style="position:absolute;left:1622px;top:744px;width:2px;height:72px;background:#f3f3f3"></div>
<div class="t" style="left:56.50px;top:769.30px;font-size:23px;line-height:23px;color:#5a6680;letter-spacing:3.262px;-webkit-text-stroke:0.8px #5a6680;transform:scaleX(0.96);transform-origin:0 0;">METRIC NAME</div>
<div class="t" style="left:495.00px;top:769.30px;font-size:23px;line-height:23px;color:#5a6680;letter-spacing:3.208px;-webkit-text-stroke:0.8px #5a6680;transform:scaleX(0.96);transform-origin:0 0;">DOWNSAMPLER</div>
<div class="t" style="left:779.36px;top:769.30px;font-size:23px;line-height:23px;color:#5a6680;letter-spacing:2.508px;-webkit-text-stroke:0.8px #5a6680;transform:scaleX(0.96);transform-origin:0 0;">AGGREGATOR</div>
<div class="t" style="left:1034.68px;top:769.30px;font-size:23px;line-height:23px;color:#5a6680;letter-spacing:2.519px;-webkit-text-stroke:0.8px #5a6680;transform:scaleX(0.96);transform-origin:0 0;">RATE</div>
<div class="t" style="left:1242.20px;top:769.30px;font-size:23px;line-height:23px;color:#5a6680;letter-spacing:2.374px;-webkit-text-stroke:0.8px #5a6680;transform:scaleX(0.96);transform-origin:0 0;">SOURCE</div>
<div class="t" style="left:1448.50px;top:769.30px;font-size:23px;line-height:23px;color:#5a6680;letter-spacing:2.730px;-webkit-text-stroke:0.8px #5a6680;transform:scaleX(0.96);transform-origin:0 0;">PER NODE</div>
<div class="t" style="left:60.52px;top:843.90px;font-size:24.5px;line-height:24.5px;color:#3a7be0;letter-spacing:0.068px;-webkit-text-stroke:0.35px #3a7be0;">sql.exec.latency-p90</div>
<svg style="position:absolute;left:372px;top:849px" width="16" height="16"><path d="M1.5,1.5 L14.5,14.5 M14.5,1.5 L1.5,14.5" stroke="#8c8c8c" stroke-width="2.6"/></svg>
<svg style="position:absolute;left:404.5px;top:851.5px" width="18" height="10"><polygon points="0,0 18,0 9,10" fill="#4380de"/></svg>
<div class="t" style="left:497.98px;top:844.00px;font-size:26px;line-height:26px;color:#3a7be0;letter-spacing:0.220px;-webkit-text-stroke:0.35px #3a7be0;">MAX</div>
<svg style="position:absolute;left:688px;top:851.5px" width="18" height="10"><polygon points="0,0 18,0 9,10" fill="#4380de"/></svg>
<div class="t" style="left:781.82px;top:844.00px;font-size:26px;line-height:26px;color:#3a7be0;letter-spacing:0.620px;-webkit-text-stroke:0.35px #3a7be0;">MAX</div>
<svg style="position:absolute;left:944.5px;top:851.5px" width="18" height="10"><polygon points="0,0 18,0 9,10" fill="#4380de"/></svg>
<div class="t" style="left:1038.50px;top:844.00px;font-size:26px;line-height:26px;color:#3a7be0;letter-spacing:-0.004px;-webkit-text-stroke:0.35px #3a7be0;">Normal</div>
<svg style="position:absolute;left:1152px;top:851.5px" width="18" height="10"><polygon points="0,0 18,0 9,10" fill="#4380de"/></svg>
<div class="t" style="left:1246.76px;top:844.00px;font-size:26px;line-height:26px;color:#3a7be0;letter-spacing:-0.252px;-webkit-text-stroke:0.35px #3a7be0;">Cluster</div>
<svg style="position:absolute;left:1358.5px;top:851.5px" width="18" height="10"><polygon points="0,0 18,0 9,10" fill="#4380de"/></svg>
<div style="position:absolute;left:1506px;top:846px;width:15.5px;height:15.5px;border:2px solid #a8a8a8;border-radius:4px;background:linear-gradient(#f2f2f2,#dcdcdc);box-shadow:0 1px 1.5px rgba(0,0,0,0.12)"></div>
<svg style="position:absolute;left:1506px;top:846px" width="20" height="20"><path d="M4.3,10.2 L8.3,14.3 L15.7,4.3" fill="none" stroke="#3a3a3a" stroke-width="3.4"/></svg>
<div class="box" style="left:1640px;top:818px;width:336px;height:72px;"></div>
<div class="t" style="left:1683.24px;top:843.60px;font-size:27.5px;line-height:27.5px;color:#3a7be0;letter-spacing:3.040px;-webkit-text-stroke:0.35px #3a7be0;transform:scaleX(0.93);transform-origin:0 0;">REMOVE METRIC</div>
<div class="box" style="left:36px;top:926px;width:276px;height:74px;"></div>
<div class="t" style="left:81.64px;top:952.20px;font-size:26.5px;line-height:26.5px;color:#3a7be0;letter-spacing:3.798px;-webkit-text-stroke:0.35px #3a7be0;transform:scaleX(0.93);transform-origin:0 0;">ADD METRIC</div>
</body></html>
